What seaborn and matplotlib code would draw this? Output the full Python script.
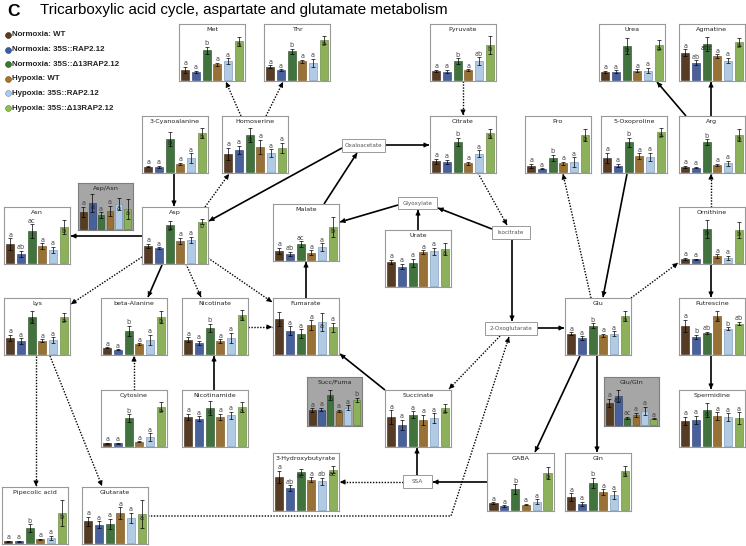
import matplotlib

matplotlib.use("Agg")
import matplotlib.pyplot as plt  # noqa: E402
import matplotlib.patches as mpatches  # noqa: E402
import seaborn as sns  # noqa: E402

W, H = 746, 546

GROUPS = ["Normoxia: WT", "Normoxia: 35S::RAP2.12", "Normoxia: 35S::\u039413RAP2.12",
          "Hypoxia: WT", "Hypoxia: 35S::RAP2.12", "Hypoxia: 35S::\u039413RAP2.12"]
COLORS = ["#5e3c1c", "#3b5ca8", "#3b7a36", "#a87426", "#a9cbec", "#8fbe4c"]
EDGES = ["#3a2410", "#223a70", "#224d20", "#6e4a14", "#6f8fb0", "#5a8030"]

# relative levels: (means, errors, significance letters)
MET = ([10.0, 7.7, 29.3, 15.3, 18.3, 38.3], [3, 1, 3.3, 1.5, 3, 4.5], "a a b a a b")
THR = ([12.7, 9.3, 28.3, 18.3, 16.7, 39.3], [1.5, 1, 2.5, 1.5, 4, 4], "a a b a a b")
PYRUVATE = ([9, 8, 18.3, 9.7, 18.3, 34.3], [1, 1.5, 3, 0.7, 4, 9], "a a b a ab b")
UREA = ([7.7, 7.7, 34, 8.7, 9, 34.7], [1, 1.5, 8, 1.5, 2.5, 4.5], "a a b a a b")
AGMATINE = ([27, 16.7, 35.3, 23.3, 19, 37.3], [3.5, 2.5, 7, 2, 2.5, 4], "a ab abc a a b")
CYANOALANINE = ([5, 5, 32.3, 7.7, 13.3, 38.3], [0.7, 1, 7, 1, 5, 5], "a a b a a b")
HOMOSERINE = ([17.7, 21.7, 36.7, 25, 18.3, 24], [6, 4, 7, 7, 4, 5], "a a a a a a")
CITRATE = ([10.3, 10, 30, 8.3, 17.7, 38.3], [2.5, 2, 4, 1.5, 3.5, 4.5], "a a b a a b")
PRO = ([6, 2.7, 13.7, 8.3, 9.3, 36.7], [2, 0.5, 3, 1.5, 5, 6], "a a b a a b")
OXOPROLINE = ([13.7, 6, 29.3, 15.3, 15, 40], [5, 1.5, 4.5, 3, 4, 4], "a a b a a b")
ARG = ([5, 4, 29.3, 6.7, 8.3, 36.7], [1, 0.7, 3, 1, 2.5, 6], "a a b a a b")
ASP_ASN = ([16.7, 25.3, 13.3, 17.7, 24.3, 19.3], [5, 9, 3, 5, 6, 10], "a a a a a a")
ASN = ([18.3, 9, 31.3, 16.3, 13, 35.3], [6, 3, 7, 3, 3, 7], "a ab ac a a b")
ASP = ([16.7, 14.3, 37.3, 22, 23, 40.7], [2, 1, 4, 3, 3, 2.5], "a a b a a b")
MALATE = ([8.7, 5.7, 15.3, 6.7, 12.3, 32.3], [3, 2, 3, 2.5, 4, 10], "a ab ac a a b")
URATE = ([24, 19, 22.7, 33.3, 34.3, 36.3], [2, 2.5, 4, 2, 3.5, 6], "a a a a a a")
ORNITHINE = ([4, 3.3, 33.3, 6.3, 5, 32.3], [1, 0.7, 9, 2, 2, 8], "a a b a a b")
LYS = ([15.7, 12.3, 36.7, 12.7, 13.3, 36.3], [3, 3, 6, 1.5, 3, 4], "a a b a a b")
BETA_ALANINE = ([5.7, 3.7, 23, 9.3, 14, 36.3], [0.5, 0.5, 5, 1, 5, 6], "a a b a a b")
NICOTINATE = ([14, 10.7, 26, 12.3, 16, 38.3], [2.5, 2, 4, 2, 5, 5], "a a b a a b")
FUMARATE = ([34.7, 22.7, 20, 28.3, 32, 26.3], [7, 4.5, 4.5, 5, 9, 4.5], "a a a a a a")
GLU = ([19.7, 15.3, 27.7, 18.3, 20, 37.3], [1.5, 2, 2.5, 1.5, 2.5, 5], "a a b a a b")
PUTRESCINE = ([28, 17, 21, 37.7, 25, 30], [6, 2, 1, 5, 1.5, 1.5], "a b ab a b ab")
CYTOSINE = ([2.3, 2.3, 27.3, 4, 8.3, 38.7], [0.5, 0.5, 4, 0.5, 4, 4.5], "a a b a a b")
NICOTINAMIDE = ([29, 26.7, 37.3, 28.7, 30.3, 38.3], [3, 2.5, 7, 3, 3.5, 5], "a a a a a a")
SUCC_FUMA = ([14.3, 15, 30, 13.7, 16.7, 24.7], [2, 1.5, 5, 1, 2.5, 2], "a a b a a b")
SUCCINATE = ([28.3, 20.7, 30.7, 25.7, 27.3, 38], [7, 5, 3.5, 5, 5, 4], "a a a a a a")
GLU_GLN = ([22, 29, 6.7, 10, 13.7, 5.7], [4, 6, 1, 2, 4, 0.5], "a ab ac a a a")
SPERMIDINE = ([25, 25.7, 35.3, 29.3, 28.3, 27.3], [4, 4, 7, 4, 4, 6], "a a a a a a")
HYDROXYBUTYRATE = ([32.7, 21.3, 38, 30, 28.3, 39.7], [6, 3, 3, 2.5, 3.5, 3.5], "a ab ac a ab ac")
GABA = ([6.3, 3.7, 20.3, 5, 7.7, 37], [1, 0.7, 5, 0.5, 2.5, 6], "a a b a a b")
GLN = ([12.3, 6, 26.7, 17.3, 14.3, 38.3], [4, 2, 5, 3, 4, 5], "a a b a a b")
PIPECOLIC = ([1.3, 1.3, 14.3, 3.3, 5, 30], [0.3, 0.3, 4, 0.5, 2, 13], "a a b a a b")
GLUTARATE = ([21.3, 17.7, 19, 29.3, 25, 29], [4.5, 3.5, 5, 6, 5, 14], "a a a a a a")

# panel name, data, pixel box (left, top, width, height), shaded ratio panel
PANELS = [
    ("Met", MET, (179, 24, 66, 57), False),
    ("Thr", THR, (264, 24, 66, 57), False),
    ("Pyruvate", PYRUVATE, (430, 24, 66, 57), False),
    ("Urea", UREA, (599, 24, 66, 57), False),
    ("Agmatine", AGMATINE, (679, 24, 66, 57), False),
    ("3-Cyanoalanine", CYANOALANINE, (142, 116, 66, 57), False),
    ("Homoserine", HOMOSERINE, (222, 116, 66, 57), False),
    ("Citrate", CITRATE, (430, 116, 66, 57), False),
    ("Pro", PRO, (525, 116, 66, 57), False),
    ("5-Oxoproline", OXOPROLINE, (601, 116, 66, 57), False),
    ("Arg", ARG, (679, 116, 66, 57), False),
    ("Asp/Asn", ASP_ASN, (78, 183, 55, 47), True),
    ("Asn", ASN, (4, 207, 66, 57), False),
    ("Asp", ASP, (142, 207, 66, 57), False),
    ("Malate", MALATE, (273, 204, 66, 57), False),
    ("Urate", URATE, (385, 230, 66, 57), False),
    ("Ornithine", ORNITHINE, (679, 207, 66, 57), False),
    ("Lys", LYS, (4, 298, 66, 57), False),
    ("beta-Alanine", BETA_ALANINE, (101, 298, 66, 57), False),
    ("Nicotinate", NICOTINATE, (182, 298, 66, 57), False),
    ("Fumarate", FUMARATE, (273, 298, 66, 57), False),
    ("Glu", GLU, (565, 298, 66, 57), False),
    ("Putrescine", PUTRESCINE, (679, 298, 66, 57), False),
    ("Cytosine", CYTOSINE, (101, 390, 66, 57), False),
    ("Nicotinamide", NICOTINAMIDE, (182, 390, 66, 57), False),
    ("Succ/Fuma", SUCC_FUMA, (307, 377, 55, 49), True),
    ("Succinate", SUCCINATE, (385, 390, 66, 57), False),
    ("Glu/Gln", GLU_GLN, (604, 377, 55, 49), True),
    ("Spermidine", SPERMIDINE, (679, 390, 66, 57), False),
    ("3-Hydroxybutyrate", HYDROXYBUTYRATE, (273, 453, 66, 58), False),
    ("GABA", GABA, (487, 453, 67, 58), False),
    ("Gln", GLN, (565, 453, 66, 58), False),
    ("Pipecolic acid", PIPECOLIC, (2, 487, 66, 57), False),
    ("Glutarate", GLUTARATE, (82, 487, 66, 57), False),
]

NODES = [
    ("Oxaloacetate", (342, 139, 43, 13)),
    ("Glyoxylate", (398, 197, 39, 12)),
    ("Isocitrate", (492, 226, 38, 13)),
    ("2-Oxoglutarate", (485, 322, 52, 13)),
    ("SSA", (403, 475, 29, 13)),
]

SOLID = [
    [(174, 173), (174, 206)],
    [(342, 148), (209, 221)],
    [(324, 204), (357, 153)],
    [(385, 145), (429, 145)],
    [(492, 229), (438, 208)],
    [(398, 205), (340, 222)],
    [(418, 230), (418, 210)],
    [(512, 239), (512, 321)],
    [(537, 328), (564, 328)],
    [(306, 298), (306, 262)],
    [(385, 390), (340, 354)],
    [(162, 265), (148, 297)],
    [(142, 236), (71, 236)],
    [(214, 390), (214, 356)],
    [(487, 482), (433, 482)],
    [(417, 475), (417, 448)],
    [(580, 356), (535, 452)],
    [(597, 356), (597, 452)],
    [(711, 264), (711, 297)],
    [(711, 356), (711, 389)],
    [(686, 116), (657, 82)],
    [(711, 116), (711, 82)],
    [(627, 174), (603, 297)],
]
DOTTED = [
    [(241, 116), (226, 82)],
    [(266, 116), (283, 82)],
    [(205, 207), (229, 174)],
    [(463, 81), (463, 115)],
    [(478, 173), (507, 225)],
    [(500, 336), (449, 389)],
    [(142, 257), (71, 304)],
    [(186, 264), (201, 297)],
    [(208, 258), (272, 302)],
    [(248, 327), (272, 327)],
    [(134, 390), (134, 356)],
    [(36, 356), (36, 486)],
    [(50, 356), (102, 486)],
    [(403, 482), (340, 482)],
    [(631, 298), (678, 263)],
    [(711, 207), (711, 174)],
    [(591, 298), (563, 174)],
    [(148, 516), (451, 516), (509, 337)],
]


def arrow(ax, pts, dotted=False):
    xs, ys = zip(*pts)
    ls = (0, (1.0, 1.1)) if dotted else "-"
    lw = 1.0 if dotted else 1.2
    ax.plot(xs, ys, color="black", lw=lw, ls=ls, solid_capstyle="butt", zorder=2)
    (x0, y0), (x1, y1) = pts[-2], pts[-1]
    d = ((x1 - x0) ** 2 + (y1 - y0) ** 2) ** 0.5
    sx, sy = x1 - (x1 - x0) / d * 5, y1 - (y1 - y0) / d * 5
    ax.annotate("", xy=(x1, y1), xytext=(sx, sy),
                arrowprops=dict(arrowstyle="-|>", color="black", lw=0.6,
                                mutation_scale=7.5, shrinkA=0, shrinkB=0), zorder=3)


def draw_panel(fig, name, data, box, shaded):
    means, errs, sig = data
    x, y, w, h = box
    ax = fig.add_axes([x / W, 1 - (y + h) / H, w / W, h / H])
    sns.barplot(x=GROUPS, y=means, hue=GROUPS, palette=COLORS, dodge=False,
                legend=False, width=0.76, linewidth=0.4, ax=ax)
    for patch, ec in zip(ax.patches, EDGES):
        patch.set_edgecolor(ec)
    ax.errorbar(range(6), means, yerr=errs, fmt="none", ecolor="black",
                elinewidth=0.5, capsize=1.4, capthick=0.5)
    top_room = h - 13
    for i, (m, e, s) in enumerate(zip(means, errs, sig.split())):
        if m + e + 5.5 <= top_room:
            ax.text(i, m + e + 0.5, s, ha="center", va="bottom", fontsize=4.7,
                    color="#444444")
        else:
            ax.text(i, m - 1.2, s, ha="center", va="top", fontsize=4.7,
                    color="#222222")
    ax.set_xlim(-0.6, 5.6)
    ax.set_ylim(-1.5, h - 1.5)
    ax.set_facecolor("#a6a6a6" if shaded else "white")
    for sp in ax.spines.values():
        sp.set_color("#7f7f7f" if shaded else "#999999")
        sp.set_linewidth(0.8)
    ax.set_xticks([])
    ax.set_yticks([])
    ax.set_xlabel("")
    ax.set_ylabel("")
    ax.text(0.5, 1 - 5.5 / h, name, transform=ax.transAxes, ha="center",
            va="center", fontsize=4.6, color="#222222")


fig = plt.figure(figsize=(W / 100, H / 100), dpi=100)
plt.rcParams["font.family"] = ["DejaVu Sans"]
base = fig.add_axes([0, 0, 1, 1])
base.set_xlim(0, W)
base.set_ylim(H, 0)
base.axis("off")

base.text(7, 11, "C", fontsize=12.5, fontweight="bold", family="Liberation Sans",
          va="center")
base.text(40, 10, "Tricarboxylic acid cycle, aspartate and glutamate metabolism",
          fontsize=10.9, family="Liberation Sans", va="center")

for i, (g, c, ec) in enumerate(zip(GROUPS, COLORS, EDGES)):
    yy = 35 + i * 14.6
    base.scatter([8], [yy], s=18, color=c, edgecolors=ec, linewidths=0.4, zorder=4)
    base.text(12.5, yy, g, fontsize=5.7, fontweight="bold", family="Liberation Sans",
              va="center", color="#222222")

for pts in SOLID:
    arrow(base, pts)
for pts in DOTTED:
    arrow(base, pts, dotted=True)

for label, (x, y, w, h) in NODES:
    base.add_patch(mpatches.Rectangle((x, y), w, h, facecolor="white",
                                      edgecolor="#999999", lw=0.7, zorder=5))
    base.text(x + w / 2, y + h / 2, label, ha="center", va="center", fontsize=4.1,
              color="#555555", zorder=6)

for name, data, box, shaded in PANELS:
    draw_panel(fig, name, data, box, shaded)

fig.savefig("out.png", dpi=100)
